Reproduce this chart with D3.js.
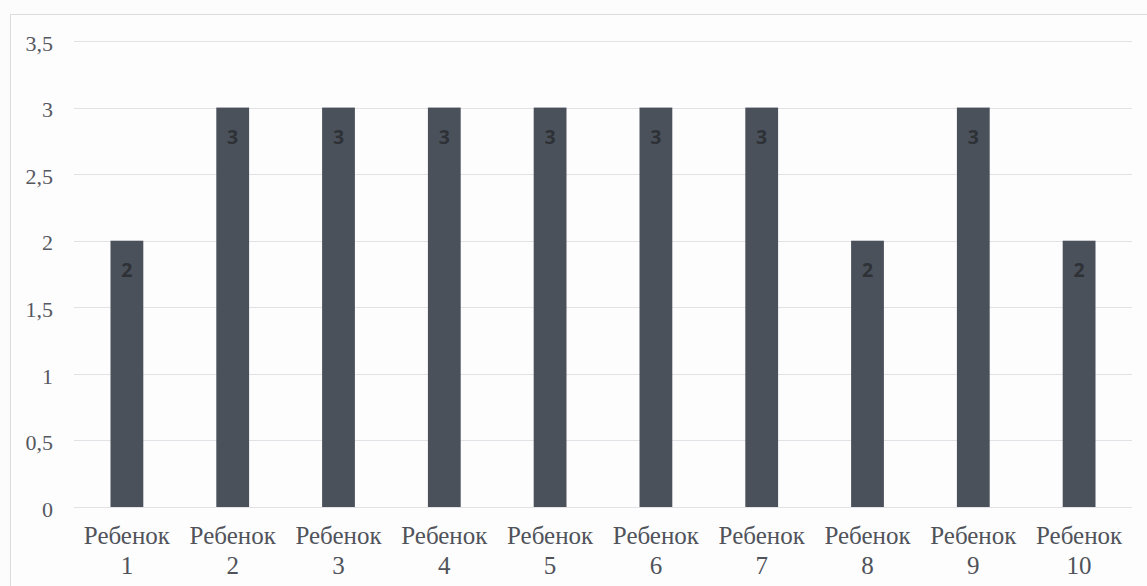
<!DOCTYPE html>
<html lang="ru">
<head>
<meta charset="utf-8">
<script src="https://cdn.jsdelivr.net/npm/d3@7/dist/d3.min.js"></script>
<style>
  html, body { margin: 0; padding: 0; background: #fcfcfd; }
  svg { display: block; }
  .serif { font-family: "Liberation Serif", "Times New Roman", serif; }
  .vlabel { font-family: "Open Sans", "DejaVu Sans", sans-serif; font-weight: 700; }
</style>
</head>
<body>
<svg id="chart" width="1147" height="586"></svg>
<script>
// Scores per child
const categories = ["Ребенок 1", "Ребенок 2", "Ребенок 3", "Ребенок 4", "Ребенок 5",
                    "Ребенок 6", "Ребенок 7", "Ребенок 8", "Ребенок 9", "Ребенок 10"];
const values = [2, 3, 3, 3, 3, 3, 3, 2, 3, 2];
const yTicks = [0, 0.5, 1, 1.5, 2, 2.5, 3, 3.5];

const svg = d3.select("#chart");
const W = 1147, H = 586;
const margin = { top: 41, right: 15, bottom: 79, left: 74 };
const innerW = W - margin.left - margin.right;
const innerH = H - margin.top - margin.bottom;

// Outer chart frame
svg.append("rect")
  .attr("x", 10.5).attr("y", 14.5)
  .attr("width", W + 10).attr("height", H + 10)
  .attr("fill", "#fdfdfe")
  .attr("stroke", "#dcdcdf").attr("stroke-width", 1);

const g = svg.append("g").attr("transform", `translate(${margin.left},${margin.top})`);

const x = d3.scaleBand().domain(categories).range([0, innerW]).paddingInner(0.69).paddingOuter(0.345);
const y = d3.scaleLinear().domain([0, 3.5]).range([innerH, 0]);

const fmt = v => String(v).replace(".", ",");

// Horizontal gridlines
g.append("g")
  .selectAll("line")
  .data(yTicks)
  .join("line")
  .attr("x1", 0).attr("x2", innerW)
  .attr("y1", d => Math.round(y(d)) + 0.5).attr("y2", d => Math.round(y(d)) + 0.5)
  .attr("stroke", "#e2e2e6").attr("stroke-width", 1.2);

// Y axis labels
const yAxis = d3.axisLeft(y).tickValues(yTicks).tickFormat(fmt).tickSize(0).tickPadding(21);
const ya = g.append("g").call(yAxis);
ya.attr("font-family", null).attr("font-size", null);
ya.select(".domain").remove();
ya.selectAll("text")
  .attr("class", "serif")
  .attr("dy", "0.42em")
  .style("font-size", "22px")
  .attr("fill", "#55585e");

// Bars
g.append("g")
  .selectAll("rect")
  .data(values)
  .join("rect")
  .attr("x", (d, i) => x(categories[i]))
  .attr("y", d => y(d))
  .attr("width", x.bandwidth())
  .attr("height", d => y(0) - y(d))
  .attr("fill", "#4a515b");

// Value labels inside bars
g.append("g")
  .selectAll("text")
  .data(values)
  .join("text")
  .attr("class", "vlabel")
  .attr("x", (d, i) => x(categories[i]) + x.bandwidth() / 2)
  .attr("y", d => y(d) + 36)
  .attr("text-anchor", "middle")
  .style("font-size", "19.5px")
  .attr("fill", "#2e3237")
  .text(d => fmt(d));

// Category labels on two lines
const xLabels = g.append("g")
  .selectAll("text")
  .data(categories)
  .join("text")
  .attr("class", "serif")
  .attr("transform", d => `translate(${x(d) + x.bandwidth() / 2},${innerH + 37})`)
  .attr("text-anchor", "middle")
  .style("font-size", "25px")
  .attr("fill", "#50535a");
xLabels.each(function (d) {
  const parts = d.split(" ");
  const t = d3.select(this);
  t.append("tspan").attr("x", 0).attr("dy", 0).text(parts[0]);
  t.append("tspan").attr("x", 0).attr("dy", 30).text(parts[1]);
});
</script>
</body>
</html>
